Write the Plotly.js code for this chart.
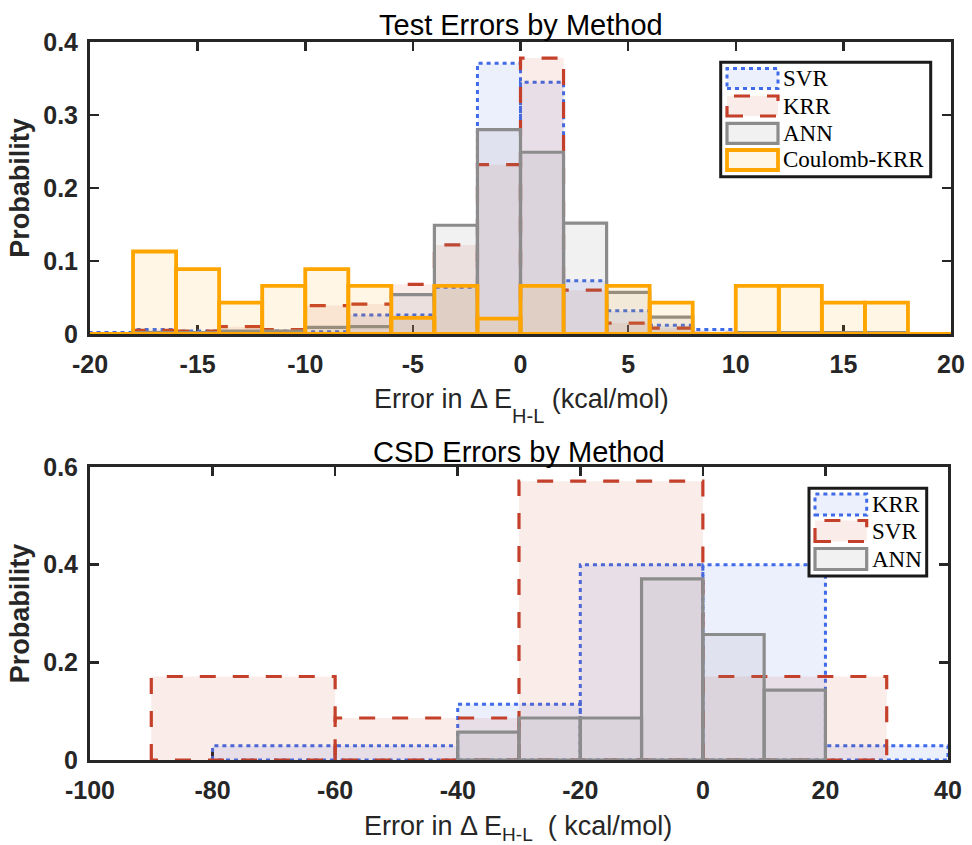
<!DOCTYPE html>
<html>
<head>
<meta charset="utf-8">
<script src="https://cdn.plot.ly/plotly-3.0.1.min.js"></script>
<style>html,body{margin:0;padding:0;background:#fff;}#chart{width:972px;height:845px;}</style>
</head>
<body>
<div id="chart"></div>
<script>
// ---------- data ----------
const testEdges = [-20,-18,-16,-14,-12,-10,-8,-6,-4,-2,0,2,4,6,8,10,12,14,16,18,20];
const testSVR     = [0.002,0.006,0.004,0.002,0.004,0.003,0.026,0.026,0.064,0.371,0.345,0.073,0.032,0.012,0.006,0.002,0.002,0.002,0,0];
const testKRR     = [0,0.005,0.004,0.010,0.006,0.039,0.041,0.068,0.122,0.232,0.378,0.060,0.015,0.008,0.001,0.002,0,0,0,0];
const testANN     = [0,0.002,0.002,0.004,0.004,0.009,0.010,0.054,0.149,0.280,0.249,0.152,0.057,0.023,0,0.002,0.002,0.002,0.002,0];
const testCoulomb = [0,0.113,0.089,0.043,0.066,0.089,0.066,0.022,0.066,0.021,0.066,0,0.066,0.043,0,0.066,0.066,0.043,0.043,0];
const testNames = ['SVR','KRR','ANN','Coulomb-KRR'];

const csdKRREdges = [-80,-60,-40,-20,0,20,40];
const csdKRR      = [0.029,0.029,0.114,0.400,0.400,0.029];
const csdSVREdges = [-90,-60,-30,0,30];
const csdSVR      = [0.171,0.086,0.571,0.171];
const csdANNEdges = [-40,-30,-20,-10,0,10,20];
const csdANN      = [0.057,0.086,0.086,0.371,0.257,0.143];
const csdNames = ['KRR','SVR','ANN'];

const testXTicks = [-20,-15,-10,-5,0,5,10,15,20];
const testYTicks = [0,0.1,0.2,0.3,0.4];
const csdXTicks = [-100,-80,-60,-40,-20,0,20,40];
const csdYTicks = [0,0.2,0.4,0.6];

const testTitle = 'Test Errors by Method';
const csdTitle = 'CSD Errors by Method';
const testXLabel = 'Error in Δ E<span style="font-size:20px;baseline-shift:-15px">H-L</span> (kcal/mol)';
const csdXLabel = 'Error in Δ E<span style="font-size:19px;baseline-shift:-6px">H-L</span>  ( kcal/mol)';
const yLabel = 'Probability';

// ---------- styles ----------
const ST = {
  blue:   {line:'#3f6ae8', fill:'rgba(65,105,232,0.10)', dash:'4px,4px', width:3},
  red:    {line:'#c4402a', fill:'rgba(196,64,42,0.10)', dash:'16px,17px', width:3.2},
  gray:   {line:'#8c8c8c', fill:'rgba(140,140,140,0.12)', dash:'solid', width:3.2},
  orange: {line:'#ffa500', fill:'rgba(255,165,0,0.10)', dash:'solid', width:3.8}
};

function histTrace(edges, vals, st, name, xa, ya){
  const xs = [], ys = [];
  for (let i = 0; i < vals.length; i++){
    const a = edges[i], b = edges[i+1], h = vals[i];
    xs.push(a, a, b, b, a, null);
    ys.push(0, h, h, 0, 0, null);
  }
  return {type:'scatter', mode:'lines', x:xs, y:ys, name:name, xaxis:xa, yaxis:ya,
    fill:'toself', fillcolor:st.fill, connectgaps:false, cliponaxis:false,
    line:{color:st.line, width:st.width, dash:st.dash}, hoverinfo:'skip', showlegend:false};
}

const traces = [
  histTrace(testEdges, testSVR, ST.blue, testNames[0], 'x', 'y'),
  histTrace(testEdges, testKRR, ST.red, testNames[1], 'x', 'y'),
  histTrace(testEdges, testANN, ST.gray, testNames[2], 'x', 'y'),
  histTrace(testEdges, testCoulomb, ST.orange, testNames[3], 'x', 'y'),
  histTrace(csdKRREdges, csdKRR, ST.blue, csdNames[0], 'x2', 'y2'),
  histTrace(csdSVREdges, csdSVR, ST.red, csdNames[1], 'x2', 'y2'),
  histTrace(csdANNEdges, csdANN, ST.gray, csdNames[2], 'x2', 'y2')
];

// ---------- layout ----------
const W = 972, H = 845, ML = 90, MR = 21, MT = 42, MB = 85;
const PW = W - ML - MR, PH = H - MT - MB;
const px = v => (v - ML) / PW;
const py = v => (H - MB - v) / PH;

const axisCommon = {
  showline:true, linecolor:'#262626', linewidth:3, mirror:'ticks',
  ticks:'inside', ticklen:9, tickwidth:2.5, tickcolor:'#262626',
  showgrid:false, zeroline:false, layer:'below traces', tickmode:'array',
  tickfont:{family:'Liberation Sans, Arial, sans-serif', size:25, color:'#262626', weight:'bold'}
};
const sansTitle = {family:'Liberation Sans, Arial, sans-serif', size:27, color:'#262626'};
const yTitleFont = {family:'Liberation Sans, Arial, sans-serif', size:27, color:'#262626', weight:'bold'};

const shapes = [], annotations = [];
function addLegend(box, centers, patchX, halfH, textX, names, styles){
  shapes.push({type:'rect', xref:'paper', yref:'paper', x0:px(box[0]), x1:px(box[2]), y0:py(box[3]), y1:py(box[1]),
    fillcolor:'#ffffff', line:{color:'#1a1a1a', width:3}});
  names.forEach((n, i) => {
    const st = styles[i];
    shapes.push({type:'rect', xref:'paper', yref:'paper', x0:px(patchX[0]), x1:px(patchX[1]),
      y0:py(centers[i] + halfH), y1:py(centers[i] - halfH), fillcolor:st.fill,
      line:{color:st.line, width:st.width, dash:st.dash}});
    annotations.push({xref:'paper', yref:'paper', x:px(textX), y:py(centers[i]), xanchor:'left', yanchor:'middle',
      showarrow:false, text:n, font:{family:'Liberation Serif, Times New Roman, serif', size:23, color:'#000'}});
  });
}
addLegend([720.7,62.3,930.7,176.7], [78.5,106,133.3,160], [727,778], 10, 781, testNames,
  [ST.blue, ST.red, ST.gray, ST.orange]);
addLegend([809,488.3,926.7,576], [504.5,531,559], [815,866.7], 10.5, 869.5, csdNames,
  [ST.blue, ST.red, ST.gray]);

const titleFont = {family:'Liberation Sans, Arial, sans-serif', size:29, color:'#000'};
annotations.push({xref:'paper', yref:'paper', x:px(521), y:py(25), xanchor:'center', yanchor:'middle',
  showarrow:false, text:testTitle, font:titleFont});
annotations.push({xref:'paper', yref:'paper', x:px(519), y:py(452), xanchor:'center', yanchor:'middle',
  showarrow:false, text:csdTitle, font:titleFont});
annotations.push({xref:'paper', yref:'paper', x:px(521), y:py(405), xanchor:'center', yanchor:'middle',
  showarrow:false, text:testXLabel, font:sansTitle});
annotations.push({xref:'paper', yref:'paper', x:px(518), y:py(828), xanchor:'center', yanchor:'middle',
  showarrow:false, text:csdXLabel, font:sansTitle});

const fmt = v => String(v);
const layout = {
  width:W, height:H, margin:{l:ML, r:MR, t:MT, b:MB},
  paper_bgcolor:'#fff', plot_bgcolor:'#fff', showlegend:false,
  xaxis: Object.assign({}, axisCommon, {domain:[0,1], anchor:'y', range:[-20,20],
    tickvals:testXTicks, ticktext:testXTicks.map(fmt), ticklabelstandoff:6}),
  yaxis: Object.assign({}, axisCommon, {domain:[py(334),1], anchor:'x', range:[0,0.4],
    tickvals:testYTicks, ticktext:testYTicks.map(fmt), ticklabelstandoff:4,
    title:{text:yLabel, font:yTitleFont, standoff:6}}),
  xaxis2: Object.assign({}, axisCommon, {domain:[0,px(948)], anchor:'y2', range:[-100,40],
    tickvals:csdXTicks, ticktext:csdXTicks.map(fmt), ticklabelstandoff:6}),
  yaxis2: Object.assign({}, axisCommon, {domain:[0,py(467)], anchor:'x2', range:[0,0.6],
    tickvals:csdYTicks, ticktext:csdYTicks.map(fmt), ticklabelstandoff:4,
    title:{text:yLabel, font:yTitleFont, standoff:6}}),
  shapes:shapes, annotations:annotations
};

Plotly.newPlot('chart', traces, layout, {staticPlot:true, displayModeBar:false});
</script>
</body>
</html>
